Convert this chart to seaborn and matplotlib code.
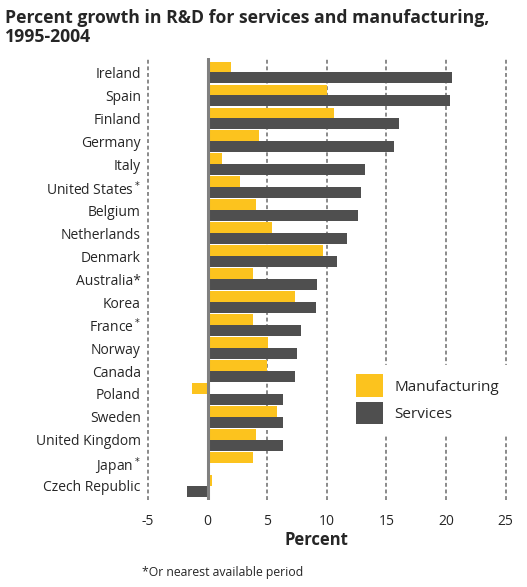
import matplotlib
matplotlib.use("Agg")
import matplotlib.pyplot as plt
import seaborn as sns
import pandas as pd
from matplotlib.patches import Patch

countries = ["Ireland", "Spain", "Finland", "Germany", "Italy", "United States$^*$",
             "Belgium", "Netherlands", "Denmark", "Australia*", "Korea", "France$^*$",
             "Norway", "Canada", "Poland", "Sweden", "United Kingdom", "Japan$^*$",
             "Czech Republic"]
manufacturing = [2.0, 10.0, 10.6, 4.3, 1.2, 2.7, 4.1, 5.4, 9.7, 3.8, 7.3, 3.8,
                 5.1, 5.0, -1.3, 5.8, 4.1, 3.8, 0.4]
services = [20.5, 20.3, 16.1, 15.6, 13.2, 12.9, 12.6, 11.7, 10.9, 9.2, 9.1, 7.8,
            7.5, 7.3, 6.3, 6.3, 6.3, 0.0, -1.7]
series = ["Manufacturing", "Services"]
colors = ["#FCC31E", "#4F4F4F"]
xticks = [-5, 0, 5, 10, 15, 20, 25]

df = pd.DataFrame({
    "Country": countries * 2,
    "Value": manufacturing + services,
    "Sector": [series[0]] * len(countries) + [series[1]] * len(countries),
})

sns.set_style("white")
plt.rcParams["font.family"] = ["Open Sans", "DejaVu Sans"]

fig = plt.figure(figsize=(5.27, 5.87), dpi=100)
ax = fig.add_axes([0.275, 0.148, 0.69, 0.753])

sns.barplot(data=df, y="Country", x="Value", hue="Sector", orient="h",
            palette=colors, width=0.94, saturation=1, ax=ax, legend=False,
            linewidth=0, edgecolor="none", zorder=3)

ax.set_xlim(-5.25, 25.25)
ax.set_ylim(18.62, -0.62)
for t in xticks:
    if t == 0:
        continue
    ax.axvline(t, color="#8a8a8a", lw=1.4, ls=(0, (2, 1.4)), zorder=1)
ax.axvline(0, color="#808080", lw=2.2, zorder=4)

for s in ax.spines.values():
    s.set_visible(False)
ax.set_xticks(xticks)
ax.set_xticklabels([str(t) for t in xticks])
ax.tick_params(axis="x", length=0, pad=10, labelsize=10)
ax.tick_params(axis="y", length=0, pad=3, labelsize=10)
ax.set_ylabel("")
ax.set_xlabel("Percent", fontsize=12, fontweight="bold")
ax.xaxis.set_label_coords(0.473, -0.07)

handles = [Patch(facecolor=c, edgecolor="none") for c in colors]
leg = ax.legend(handles, series, loc="upper left", bbox_to_anchor=(0.556, 0.305),
                borderaxespad=0, frameon=True, fontsize=11, handlelength=1.75,
                handleheight=1.9, labelspacing=0.3, handletextpad=0.75,
                borderpad=0.6)
leg.get_frame().set_facecolor("white")
leg.get_frame().set_edgecolor("white")
leg.get_frame().set_alpha(1)
leg.set_zorder(5)

fig.text(0.01, 0.985, "Percent growth in R&D for services and manufacturing,\n1995-2004",
         fontsize=12.7, fontweight="bold", va="top", ha="left", linespacing=1.1)
fig.text(0.27, 0.024, "*Or nearest available period", fontsize=8.8, ha="left", va="center")

fig.savefig("out.png", dpi=100)
